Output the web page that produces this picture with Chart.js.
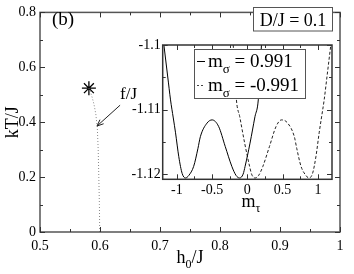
<!DOCTYPE html>
<html><head><meta charset="utf-8">
<script src="https://cdn.jsdelivr.net/npm/chart.js@4"></script>
<style>
html,body{margin:0;padding:0;background:#fff;}
#wrap{position:relative;width:354px;height:274px;overflow:hidden;}
canvas{position:absolute;left:0;top:0;}
</style></head><body>
<div id="wrap"><canvas id="main" width="354" height="274"></canvas><canvas id="inset" width="354" height="274"></canvas></div>
<script>
// ---- main panel data ----
const h0Values = [0.5995, 0.599, 0.598, 0.597, 0.5955, 0.593, 0.590, 0.587, 0.584, 0.5815];
const kTValues = [0.0,    0.1,   0.2,   0.3,   0.38,   0.43,  0.465, 0.49,  0.51,  0.524];
const starH0 = [0.5815];
const starKT = [0.524];
const mainXTicks = [0.5, 0.6, 0.7, 0.8, 0.9, 1.0];
const mainXLabels = ['0.5', '0.6', '0.7', '0.8', '0.9', '1'];
const mainYTicks = [0, 0.2, 0.4, 0.6, 0.8];
const mainYLabels = ['0', '0.2', '0.4', '0.6', '0.8'];

// ---- inset data ----
const mTauPlus = [-1.183, -1.13, -1.089, -1.05, -1.018, -0.972, -0.924, -0.877, -0.83, -0.761, -0.70, -0.666, -0.572, -0.50, -0.408, -0.314, -0.22, -0.16, -0.11, -0.06, -0.032, 0.038, 0.108, 0.155, 0.20];
const fPlus    = [-1.1000, -1.1048, -1.1085, -1.1113, -1.1136, -1.1173, -1.1199, -1.1206, -1.1202, -1.1188, -1.1160, -1.1142, -1.1121, -1.1116, -1.1126, -1.1157, -1.1188, -1.1202, -1.1206, -1.1200, -1.1188, -1.1152, -1.1111, -1.1085, -1.1000];
const mTauMinus = [-0.20, -0.155, -0.108, -0.038, 0.032, 0.06, 0.11, 0.16, 0.22, 0.314, 0.408, 0.485, 0.572, 0.666, 0.70, 0.761, 0.83, 0.873, 0.924, 0.972, 1.018, 1.05, 1.089, 1.13, 1.183];
const fMinus    = [-1.1000, -1.1085, -1.1111, -1.1152, -1.1188, -1.1200, -1.1206, -1.1202, -1.1188, -1.1157, -1.1126, -1.1116, -1.1121, -1.1142, -1.1160, -1.1188, -1.1202, -1.1206, -1.1199, -1.1173, -1.1136, -1.1113, -1.1085, -1.1048, -1.1000];
const insetXTicks = [-1, -0.5, 0, 0.5, 1];
const insetXLabels = ['-1', '-0.5', '0', '0.5', '1'];
const insetYTicks = [-1.12, -1.11, -1.1];
const insetYLabels = ['-1.12', '-1.11', '-1.1'];
const legendValues = ['0.991', '-0.991'];

const SERIF = "'Liberation Serif', 'DejaVu Serif', serif";

function drawSub(ctx, base, sub, tail, x, y, size, align) {
  ctx.font = size + 'px ' + SERIF;
  const wb = ctx.measureText(base).width;
  ctx.font = Math.round(size * 0.68) + 'px ' + SERIF;
  const ws = ctx.measureText(sub).width;
  ctx.font = size + 'px ' + SERIF;
  const wt = ctx.measureText(tail).width;
  const total = wb + ws + wt;
  let sx = align === 'center' ? x - total / 2 : x;
  ctx.textAlign = 'left';
  ctx.fillText(base, sx, y);
  ctx.font = Math.round(size * 0.68) + 'px ' + SERIF;
  ctx.fillText(sub, sx + wb, y + size * 0.3);
  ctx.font = size + 'px ' + SERIF;
  ctx.fillText(tail, sx + wb + ws, y);
}

const mainDeco = {
  id: 'mainDeco',
  afterDraw(chart) {
    const { ctx, chartArea: a, scales: { x, y } } = chart;
    ctx.save();
    ctx.strokeStyle = '#555'; ctx.lineWidth = 1.5;
    ctx.strokeRect(a.left, a.top, a.right - a.left, a.bottom - a.top);
    ctx.strokeStyle = '#333'; ctx.lineWidth = 1;
    ctx.beginPath();
    for (let i = 0; i <= 10; i++) {
      const px = Math.round(x.getPixelForValue(0.5 + i * 0.05)) + 0.5;
      const len = i % 2 ? 3 : 5;
      ctx.moveTo(px, a.bottom); ctx.lineTo(px, a.bottom - len);
      ctx.moveTo(px, a.top); ctx.lineTo(px, a.top + len);
    }
    for (let i = 0; i <= 8; i++) {
      const py = Math.round(y.getPixelForValue(i * 0.1)) + 0.5;
      const len = i % 2 ? 3 : 5;
      ctx.moveTo(a.left, py); ctx.lineTo(a.left + len, py);
      ctx.moveTo(a.right, py); ctx.lineTo(a.right - len, py);
    }
    ctx.stroke();
    ctx.fillStyle = '#000';
    ctx.textBaseline = 'alphabetic';
    // x title
    drawSub(ctx, 'h', '0', '/J', (a.left + a.right) / 2, 263, 18, 'center');
    // y title
    ctx.save();
    ctx.translate(13, (a.top + a.bottom) / 2);
    ctx.rotate(-Math.PI / 2);
    ctx.font = '18px ' + SERIF; ctx.textAlign = 'center'; ctx.textBaseline = 'middle';
    ctx.fillText('kT/J', 0, 0);
    ctx.restore();
    // (b)
    ctx.font = '19px ' + SERIF; ctx.textAlign = 'left';
    ctx.fillText('(b)', 52, 25);
    // D/J box
    ctx.fillStyle = '#fff';
    ctx.fillRect(253, 7, 79, 24);
    ctx.strokeStyle = '#555'; ctx.lineWidth = 1;
    ctx.strokeRect(253.5, 7.5, 79, 23.5);
    ctx.fillStyle = '#000';
    ctx.font = '18px ' + SERIF; ctx.textAlign = 'center';
    ctx.fillText('D/J = 0.1', 293, 26);
    // arrow + f/J
    const x1 = x.getPixelForValue(0.6335), y1 = y.getPixelForValue(0.462);
    const x2 = x.getPixelForValue(0.595), y2 = y.getPixelForValue(0.386);
    ctx.strokeStyle = '#222'; ctx.lineWidth = 1;
    ctx.beginPath(); ctx.moveTo(x1, y1); ctx.lineTo(x2, y2); ctx.stroke();
    const ang = Math.atan2(y2 - y1, x2 - x1);
    ctx.beginPath();
    ctx.moveTo(x2, y2);
    ctx.lineTo(x2 - 7 * Math.cos(ang - 0.4), y2 - 7 * Math.sin(ang - 0.4));
    ctx.moveTo(x2, y2);
    ctx.lineTo(x2 - 7 * Math.cos(ang + 0.4), y2 - 7 * Math.sin(ang + 0.4));
    ctx.stroke();
    ctx.font = '17px ' + SERIF; ctx.textAlign = 'left';
    ctx.fillText('f/J', x.getPixelForValue(0.6335), y.getPixelForValue(0.485));
    ctx.restore();
  }
};

new Chart(document.getElementById('main'), {
  type: 'scatter',
  data: { datasets: [
    { data: h0Values.map((v, i) => ({ x: v, y: kTValues[i] })), showLine: true, borderColor: '#888', borderWidth: 1, borderDash: [1, 2], pointRadius: 0, tension: 0 },
    { data: starH0.map((v, i) => ({ x: v, y: starKT[i] })), showLine: false, pointStyle: 'star', pointRadius: 7, borderColor: '#000', backgroundColor: '#000', borderWidth: 1.3 }
  ] },
  options: {
    responsive: false, animation: false, devicePixelRatio: 1, events: [],
    layout: { padding: { top: 5, right: 14, left: 0, bottom: 0 } },
    plugins: { legend: { display: false }, tooltip: { enabled: false } },
    scales: {
      x: { type: 'linear', min: 0.5, max: 1,
        afterBuildTicks(s) { s.ticks = mainXTicks.map(v => ({ value: v })); },
        ticks: { callback: (v, i) => mainXLabels[i], font: { family: SERIF, size: 14 }, color: '#000', padding: 6, maxRotation: 0, autoSkip: false },
        grid: { display: false, drawTicks: false }, border: { display: false },
        afterFit(s) { s.height = 42; } },
      y: { type: 'linear', min: 0, max: 0.8,
        afterBuildTicks(s) { s.ticks = mainYTicks.map(v => ({ value: v })); },
        ticks: { callback: (v, i) => mainYLabels[i], font: { family: SERIF, size: 14 }, color: '#000', padding: 4, autoSkip: false },
        grid: { display: false, drawTicks: false }, border: { display: false },
        afterFit(s) { s.width = 40; } }
    }
  },
  plugins: [mainDeco]
});

const insetDeco = {
  id: 'insetDeco',
  beforeDraw(chart) {
    const { ctx, chartArea: a } = chart;
    ctx.save(); ctx.fillStyle = '#fff';
    ctx.fillRect(a.left, a.top, a.right - a.left, a.bottom - a.top);
    ctx.restore();
  },
  afterDraw(chart) {
    const { ctx, chartArea: a, scales: { x, y } } = chart;
    ctx.save();
    ctx.strokeStyle = '#333'; ctx.lineWidth = 1;
    ctx.beginPath();
    for (let i = 0; i <= 8; i++) {
      const px = Math.round(x.getPixelForValue(-1 + i * 0.25)) + 0.5;
      const len = i % 2 ? 3 : 5;
      ctx.moveTo(px, a.bottom); ctx.lineTo(px, a.bottom - len);
      ctx.moveTo(px, a.top); ctx.lineTo(px, a.top + len);
    }
    for (let i = 0; i <= 4; i++) {
      const py = Math.round(y.getPixelForValue(-1.12 + i * 0.005)) + 0.5;
      const len = i % 2 ? 3 : 5;
      ctx.moveTo(a.left, py); ctx.lineTo(a.left + len, py);
      ctx.moveTo(a.right, py); ctx.lineTo(a.right - len, py);
    }
    ctx.stroke();
    ctx.strokeStyle = '#333'; ctx.lineWidth = 1.5;
    ctx.strokeRect(a.left, a.top, a.right - a.left, a.bottom - a.top);
    // legend
    ctx.fillStyle = '#fff';
    ctx.fillRect(194, 49, 111, 49);
    ctx.strokeStyle = '#555'; ctx.lineWidth = 1;
    ctx.strokeRect(194.5, 49.5, 111, 49);
    ctx.strokeStyle = '#000';
    ctx.beginPath(); ctx.moveTo(197, 61.5); ctx.lineTo(205, 61.5); ctx.stroke();
    ctx.strokeStyle = '#444'; ctx.setLineDash([2, 2]);
    ctx.beginPath(); ctx.moveTo(197, 85.5); ctx.lineTo(205, 85.5); ctx.stroke();
    ctx.setLineDash([]);
    ctx.fillStyle = '#000';
    drawSub(ctx, 'm', 'σ', ' = ' + legendValues[0], 208, 67, 19, 'left');
    drawSub(ctx, 'm', 'σ', ' = ' + legendValues[1], 208, 91, 19, 'left');
    // x title
    drawSub(ctx, 'm', 'τ', '', x.getPixelForValue(0.05), 207, 18, 'center');
    ctx.restore();
  }
};

new Chart(document.getElementById('inset'), {
  type: 'scatter',
  data: { datasets: [
    { data: mTauPlus.map((v, i) => ({ x: v, y: fPlus[i] })), showLine: true, borderColor: '#000', borderWidth: 1, pointRadius: 0, tension: 0.4, cubicInterpolationMode: 'monotone' },
    { data: mTauMinus.map((v, i) => ({ x: v, y: fMinus[i] })), showLine: true, borderColor: '#222', borderWidth: 1, borderDash: [3, 2], pointRadius: 0, tension: 0.4, cubicInterpolationMode: 'monotone' }
  ] },
  options: {
    responsive: false, animation: false, devicePixelRatio: 1, events: [],
    layout: { padding: { top: 45, right: 22, left: 0, bottom: 0 } },
    plugins: { legend: { display: false }, tooltip: { enabled: false } },
    scales: {
      x: { type: 'linear', min: -1.2, max: 1.2,
        afterBuildTicks(s) { s.ticks = insetXTicks.map(v => ({ value: v })); },
        ticks: { callback: (v, i) => insetXLabels[i], font: { family: SERIF, size: 14 }, color: '#000', padding: 3, maxRotation: 0, autoSkip: false },
        grid: { display: false, drawTicks: false }, border: { display: false },
        afterFit(s) { s.height = 94.7; } },
      y: { type: 'linear', min: -1.1208, max: -1.1,
        afterBuildTicks(s) { s.ticks = insetYTicks.map(v => ({ value: v })); },
        ticks: { callback: (v, i) => insetYLabels[i], font: { family: SERIF, size: 14 }, color: '#000', padding: 2, autoSkip: false },
        grid: { display: false, drawTicks: false }, border: { display: false },
        afterFit(s) { s.width = 162.7; } }
    }
  },
  plugins: [insetDeco]
});
</script>
</body></html>
